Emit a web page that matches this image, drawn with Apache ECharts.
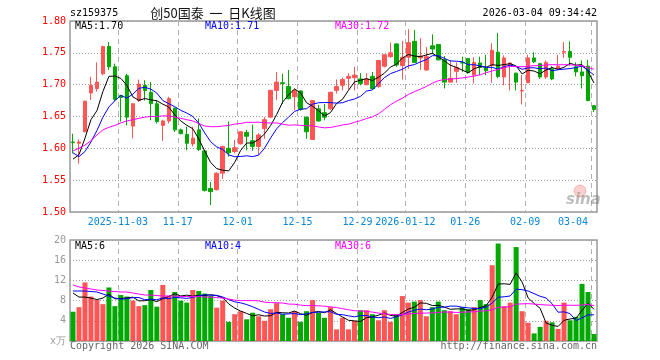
<!DOCTYPE html>
<html>
<head>
<meta charset="utf-8">
<script src="https://cdn.jsdelivr.net/npm/echarts@6/dist/echarts.min.js"></script>
<style>html,body{margin:0;padding:0;background:#fff}#c{width:660px;height:360px}</style>
</head>
<body>
<div id="c"></div>
<script>
// ---- data ----
const dates = [
'2025-10-22','2025-10-23','2025-10-24','2025-10-27','2025-10-28','2025-10-29','2025-10-30','2025-10-31',
'2025-11-03','2025-11-04','2025-11-05','2025-11-06','2025-11-07','2025-11-10','2025-11-11','2025-11-12','2025-11-13','2025-11-14',
'2025-11-17','2025-11-18','2025-11-19','2025-11-20','2025-11-21','2025-11-24','2025-11-25','2025-11-26','2025-11-27','2025-11-28',
'2025-12-01','2025-12-02','2025-12-03','2025-12-04','2025-12-05','2025-12-08','2025-12-09','2025-12-10','2025-12-11','2025-12-12',
'2025-12-15','2025-12-16','2025-12-17','2025-12-18','2025-12-19','2025-12-22','2025-12-23','2025-12-24','2025-12-25','2025-12-26',
'2025-12-29','2025-12-30','2025-12-31','2026-01-05','2026-01-06','2026-01-07','2026-01-08','2026-01-09',
'2026-01-12','2026-01-13','2026-01-14','2026-01-15','2026-01-16','2026-01-19','2026-01-20','2026-01-21','2026-01-22','2026-01-23',
'2026-01-26','2026-01-27','2026-01-28','2026-01-29','2026-01-30','2026-02-02','2026-02-03','2026-02-04','2026-02-05','2026-02-06',
'2026-02-09','2026-02-10','2026-02-11','2026-02-12','2026-02-13','2026-02-24','2026-02-25','2026-02-26','2026-02-27',
'2026-03-02','2026-03-03','2026-03-04'];

const tickDates  = ['2025-11-03','2025-11-17','2025-12-01','2025-12-15','2025-12-29','2026-01-12','2026-01-26','2026-02-09','2026-03-04'];
const tickLabels = ['2025-11-03','11-17','12-01','12-15','12-29','2026-01-12','01-26','02-09','03-04'];

const open = [1.610,1.608,1.626,1.687,1.694,1.717,1.760,1.728,1.683,1.714,
1.635,1.675,1.699,1.688,1.670,1.636,1.643,1.663,1.629,1.622,
1.607,1.629,1.596,1.537,1.535,1.561,1.600,1.595,1.607,1.625,
1.612,1.603,1.631,1.649,1.691,1.703,1.697,1.681,1.690,1.649,
1.614,1.662,1.656,1.662,1.691,1.699,1.710,1.711,1.709,1.700,
1.713,1.697,1.729,1.744,1.764,1.730,1.743,1.768,1.742,1.723,
1.761,1.763,1.739,1.704,1.721,1.735,1.741,1.715,1.734,1.726,
1.730,1.751,1.712,1.731,1.718,1.690,1.703,1.742,1.733,1.712,
1.725,1.725,1.751,1.752,1.728,1.720,1.729,1.667];

const close = [1.609,1.610,1.674,1.699,1.704,1.760,1.728,1.677,1.680,1.649,
1.670,1.701,1.691,1.670,1.642,1.643,1.678,1.629,1.623,1.608,
1.616,1.598,1.534,1.532,1.561,1.603,1.593,1.601,1.626,1.619,
1.603,1.621,1.645,1.691,1.704,1.702,1.678,1.691,1.661,1.626,
1.675,1.643,1.649,1.688,1.697,1.708,1.713,1.715,1.702,1.709,
1.694,1.738,1.747,1.750,1.731,1.743,1.766,1.735,1.745,1.744,
1.756,1.739,1.704,1.710,1.727,1.734,1.719,1.735,1.727,1.722,
1.754,1.713,1.742,1.734,1.704,1.691,1.742,1.736,1.712,1.735,
1.709,1.729,1.752,1.743,1.720,1.714,1.675,1.661];

const low = [1.592,1.576,1.625,1.676,1.689,1.715,1.723,1.674,1.642,1.636,
1.616,1.673,1.675,1.644,1.639,1.612,1.639,1.626,1.622,1.597,
1.603,1.596,1.532,1.511,1.534,1.552,1.587,1.592,1.606,1.597,
1.596,1.590,1.615,1.648,1.676,1.670,1.677,1.660,1.659,1.615,
1.613,1.642,1.644,1.661,1.686,1.691,1.692,1.691,1.699,1.699,
1.692,1.695,1.727,1.742,1.728,1.708,1.725,1.734,1.723,1.722,
1.748,1.738,1.694,1.703,1.703,1.720,1.717,1.702,1.715,1.715,
1.703,1.710,1.699,1.691,1.691,1.669,1.703,1.734,1.709,1.709,
1.707,1.724,1.742,1.730,1.713,1.694,1.674,1.657];

const high = [1.623,1.614,1.675,1.712,1.735,1.761,1.767,1.733,1.684,1.717,
1.671,1.708,1.707,1.704,1.675,1.645,1.681,1.664,1.631,1.634,
1.634,1.647,1.597,1.547,1.562,1.604,1.642,1.613,1.627,1.629,
1.637,1.624,1.649,1.692,1.720,1.717,1.723,1.694,1.691,1.650,
1.676,1.668,1.670,1.689,1.708,1.711,1.718,1.728,1.718,1.718,
1.720,1.739,1.748,1.766,1.765,1.769,1.787,1.786,1.773,1.759,
1.779,1.764,1.745,1.738,1.735,1.744,1.742,1.743,1.744,1.747,
1.765,1.781,1.746,1.735,1.719,1.715,1.747,1.751,1.734,1.738,
1.729,1.747,1.767,1.768,1.735,1.738,1.739,1.668];

const volume = [5.8,6.7,11.6,8.8,8.1,7.3,10.6,6.9,9.1,8.8,
8.0,6.9,7.1,10.1,6.8,11.1,9.0,9.7,8.0,7.6,
10.1,9.9,9.4,8.9,6.6,8.0,3.8,5.3,5.9,4.3,
5.6,4.9,4.0,6.3,7.5,5.3,4.6,5.9,3.8,5.9,
8.1,5.6,4.6,6.7,2.3,4.6,2.3,4.0,6.1,6.1,
5.3,4.1,6.1,3.8,5.3,8.9,7.6,7.8,8.1,4.9,
6.7,7.8,6.1,5.9,5.3,6.7,6.3,6.7,8.1,7.3,
15.0,19.3,6.9,7.6,18.6,5.9,3.6,1.5,2.8,4.0,
3.7,2.4,7.6,4.1,4.8,11.3,9.7,1.4];

// moving-average values at the start of the window (earlier data not shown)
const ma5Lead  = [1.583,1.590,1.616,1.645];
const ma10Lead = [1.593,1.587,1.595,1.610,1.628,1.649,1.665,1.675,1.683];
const ma30Lead = [1.596,1.600,1.605,1.612,1.621,1.629,1.633,1.636,1.640,1.643,
1.645,1.647,1.649,1.650,1.650,1.651,1.651,1.649,1.647,1.645,
1.643,1.639,1.635,1.634,1.634,1.635,1.636,1.638,1.639];
const vma5Lead  = [9.5,8.7,8.7,8.5];
const vma10Lead = [9.9,9.9,9.9,9.8,9.7,9.3,8.9,8.5,8.3];
const vma30Lead = [11.1,10.7,10.5,10.3,10.1,10.0,9.9,9.8,9.7,9.7,
9.5,9.3,9.1,9.1,9.0,8.9,8.9,8.9,8.8,8.8,
8.8,8.8,8.7,8.7,8.6,8.5,8.3,8.1,8.0];

const code = 'sz159375';
const titleText = '创50国泰  一  日K线图';
const stamp = '2026-03-04 09:34:42';
const priceLegend = ['MA5:1.70','MA10:1.71','MA30:1.72'];
const volLegend = ['MA5:6','MA10:4','MA30:6'];

// ---- build ----
function movingAvg(vals, n, lead) {
  return vals.map((v, i) => {
    if (i < n - 1) return lead[i];
    let s = 0;
    for (let k = i - n + 1; k <= i; k++) s += vals[k];
    return s / n;
  });
}
const ma5 = movingAvg(close, 5, ma5Lead);
const ma10 = movingAvg(close, 10, ma10Lead);
const ma30 = movingAvg(close, 30, ma30Lead);
const vma5 = movingAvg(volume, 5, vma5Lead);
const vma10 = movingAvg(volume, 10, vma10Lead);
const vma30 = movingAvg(volume, 30, vma30Lead);

const UP = '#ff5555', DOWN = '#00a800';
const mono = 'DejaVu Sans Mono';
const tickSet = new Set(tickDates);
const isTick = (i) => tickSet.has(dates[i]);

const kData = dates.map((d, i) => [open[i], close[i], low[i], high[i]]);
const vData = volume.map((v, i) => ({ value: v, itemStyle: { color: close[i] > open[i] ? UP : DOWN } }));

const vSplit = { show: true, interval: (i) => isTick(i), lineStyle: { color: '#b0b0b0', type: [5, 4], width: 1 } };
const hSplit = { show: true, lineStyle: { color: '#a0a0a0', type: [1, 2], width: 1 } };

function lineSeries(data, color, xi, yi) {
  return { type: 'line', data: data, xAxisIndex: xi, yAxisIndex: yi, symbol: 'none', silent: true,
    lineStyle: { color: color, width: 1 }, z: 5 };
}
function txt(x, y, text, fill, align, font) {
  return { type: 'text', x: x, y: y, z: 100, silent: true,
    style: { text: text, fill: fill, align: align || 'left', verticalAlign: 'middle', font: font || ('10px ' + mono) } };
}

const chart = echarts.init(document.getElementById('c'), null, { renderer: 'canvas' });
chart.setOption({
  animation: false,
  backgroundColor: '#ffffff',
  grid: [
    { left: 70, right: 63, top: 21, height: 191, show: true, borderColor: '#999', borderWidth: 1.5, backgroundColor: 'transparent' },
    { left: 70, right: 63, top: 240, height: 101, show: true, borderColor: '#999', borderWidth: 1.5, backgroundColor: 'transparent' }
  ],
  xAxis: [
    { type: 'category', gridIndex: 0, data: dates, boundaryGap: true,
      axisLine: { show: false }, axisTick: { show: false },
      axisLabel: { interval: (i) => isTick(i), formatter: (v) => tickLabels[tickDates.indexOf(v)],
        color: '#0a88d8', fontFamily: mono, fontSize: 10, margin: 5, alignMaxLabel: 'right', padding: [0, 6, 0, 0] },
      splitLine: vSplit },
    { type: 'category', gridIndex: 1, data: dates, boundaryGap: true,
      axisLine: { show: false }, axisTick: { show: false }, axisLabel: { show: false },
      splitLine: vSplit }
  ],
  yAxis: [
    { type: 'value', gridIndex: 0, min: 1.5, max: 1.8, interval: 0.05,
      axisLine: { show: false }, axisTick: { show: false },
      axisLabel: { color: '#ff0000', fontFamily: mono, fontSize: 10, margin: 4, formatter: (v) => v.toFixed(2) },
      splitLine: hSplit },
    { type: 'value', gridIndex: 1, min: 0, max: 20, interval: 4,
      axisLine: { show: false }, axisTick: { show: false },
      axisLabel: { color: '#999', fontFamily: mono, fontSize: 10, margin: 4, formatter: (v) => v === 0 ? 'x万' : String(v) },
      splitLine: hSplit }
  ],
  series: [
    { type: 'candlestick', xAxisIndex: 0, yAxisIndex: 0, data: kData, barWidth: 4, silent: true,
      itemStyle: { color: UP, color0: DOWN, borderColor: UP, borderColor0: DOWN, borderWidth: 1 } },
    lineSeries(ma5, '#000000', 0, 0),
    lineSeries(ma10, '#0000ff', 0, 0),
    lineSeries(ma30, '#ff00ff', 0, 0),
    { type: 'bar', xAxisIndex: 1, yAxisIndex: 1, data: vData, barWidth: 5, silent: true },
    lineSeries(vma5, '#000000', 1, 1),
    lineSeries(vma10, '#0000ff', 1, 1),
    lineSeries(vma30, '#ff00ff', 1, 1)
  ],
  graphic: [
    txt(70, 13, code, '#000'),
    txt(213, 13, titleText, '#111', 'center', '13px "Noto Sans CJK SC"'),
    txt(597, 13, stamp, '#000', 'right'),
    txt(75, 26, priceLegend[0], '#000'),
    txt(205, 26, priceLegend[1], '#0000ff'),
    txt(335, 26, priceLegend[2], '#ff00ff'),
    txt(75, 246, volLegend[0], '#000'),
    txt(205, 246, volLegend[1], '#0000ff'),
    txt(335, 246, volLegend[2], '#ff00ff'),
    txt(70, 346, 'Copyright 2026 SINA.COM', '#666'),
    txt(597, 346, 'http://finance.sina.com.cn', '#666', 'right'),
    { type: 'circle', shape: { cx: 580, cy: 191, r: 6 }, z: 1, silent: true,
      style: { fill: 'rgba(235,90,90,0.28)', stroke: 'rgba(235,90,90,0.35)', lineWidth: 1 } },
    { type: 'text', x: 566, y: 200, z: 1, silent: true,
      style: { text: 'sina', fill: 'rgba(110,110,110,0.45)', font: 'italic bold 15px "DejaVu Sans"', verticalAlign: 'middle' } }
  ]
});
</script>
</body>
</html>
